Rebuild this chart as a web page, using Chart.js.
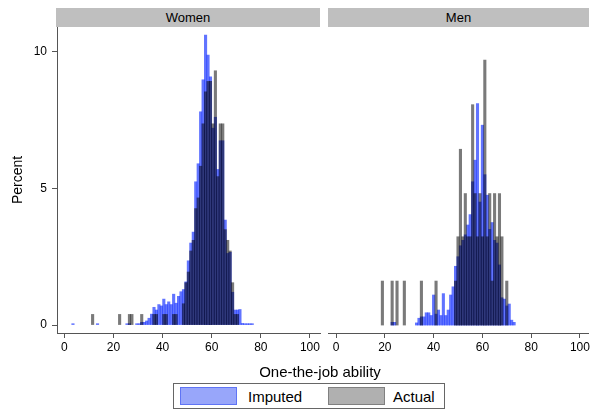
<!DOCTYPE html>
<html>
<head>
<meta charset="utf-8">
<script src="https://cdn.jsdelivr.net/npm/chart.js@4.4.1/dist/chart.umd.min.js"></script>
<style>
  html, body { margin: 0; padding: 0; background: #fff; }
  body { width: 590px; height: 412px; position: relative; overflow: hidden;
         font-family: "Liberation Sans", Arial, Helvetica, sans-serif; color: #000; }
  .strip { position: absolute; top: 8px; height: 19px; background: #bfbfbf;
           font-size: 13px; line-height: 19px; text-align: center; }
  canvas { position: absolute; top: 27px; }
  #xtitle { position: absolute; left: 0; width: 640px; top: 363px; text-align: center; font-size: 15px; }
  #legend { position: absolute; left: 173px; top: 383px; width: 272px; height: 26px;
            border: 1px solid #666; box-sizing: border-box; font-size: 15px; }
  .key { position: absolute; top: 3px; width: 57px; height: 18px; box-sizing: border-box; }
  .lab { position: absolute; top: 3px; line-height: 19px; }
</style>
</head>
<body>
<div class="strip" style="left:56px;width:264px;">Women</div>
<div class="strip" style="left:328px;width:261px;">Men</div>
<canvas id="women" width="322" height="340" style="left:0px;"></canvas>
<canvas id="men" width="268" height="340" style="left:322px;"></canvas>
<div id="xtitle">One-the-job ability</div>
<div id="legend">
  <div class="key" style="left:6px;background:#98a6fa;border:1px solid #5f74f5;"></div>
  <div class="lab" style="left:74px;">Imputed</div>
  <div class="key" style="left:154px;background:#b0b0b0;border:1px solid #808080;"></div>
  <div class="lab" style="left:219px;">Actual</div>
</div>
<script>
// Histogram bins: width 1 on the ability scale, indexed 0..79
const bins = [
   0,  1,  2,  3,  4,  5,  6,  7,  8,  9,
  10, 11, 12, 13, 14, 15, 16, 17, 18, 19,
  20, 21, 22, 23, 24, 25, 26, 27, 28, 29,
  30, 31, 32, 33, 34, 35, 36, 37, 38, 39,
  40, 41, 42, 43, 44, 45, 46, 47, 48, 49,
  50, 51, 52, 53, 54, 55, 56, 57, 58, 59,
  60, 61, 62, 63, 64, 65, 66, 67, 68, 69,
  70, 71, 72, 73, 74, 75, 76, 77, 78, 79
];
const binWidth = 1;
const womenStart = 0;     // bin i covers [start + i, start + i + 1)
const menStart = -0.5;

// Percent of observations per bin
const womenImputed = [
  0, 0, 0, 0.05, 0, 0, 0, 0, 0, 0,
  0, 0, 0, 0.05, 0, 0, 0, 0, 0, 0,
  0, 0, 0, 0, 0, 0.05, 0.05, 0, 0, 0.05,
  0.05, 0.1, 0.1, 0.15, 0.25, 0.4, 0.65, 0.55, 0.75, 0.7,
  0.95, 0.75, 0.85, 0.75, 1.13, 0.8, 1.05, 1.22, 1.3, 1.58,
  2.35, 3.0, 3.4, 5.24, 5.9, 7.8, 8.97, 10.6, 9.87, 9.08,
  7.2, 7.6, 5.69, 6.74, 6.74, 3.84, 2.62, 2.66, 1.2, 0.55,
  0.55, 0.57, 0.06, 0.05, 0.05, 0.05, 0.05, 0, 0, 0
];
const womenActual = [
  0, 0, 0, 0, 0, 0, 0, 0, 0, 0,
  0, 0.39, 0, 0, 0, 0, 0, 0, 0, 0,
  0, 0, 0.39, 0, 0, 0, 0.39, 0.39, 0, 0,
  0, 0.39, 0, 0, 0, 0, 0.39, 0.39, 0, 0,
  0.39, 0.39, 0, 0, 0.39, 0.39, 0, 0, 0.78, 1.55,
  1.94, 2.71, 3.1, 4.26, 4.65, 5.81, 7.36, 8.53, 8.91, 8.91,
  7.36, 9.3, 5.43, 7.36, 7.36, 3.49, 3.1, 2.71, 1.55, 0.39,
  0.39, 0, 0, 0, 0, 0, 0, 0, 0, 0
];
const menImputed = [
  0, 0, 0, 0, 0, 0, 0, 0, 0, 0,
  0, 0, 0, 0, 0, 0, 0, 0, 0, 0,
  0, 0, 0, 0.1, 0.1, 0, 0, 0, 0, 0,
  0, 0, 0, 0.08, 0.25, 0.3, 0.3, 0.45, 0.45, 0.35,
  1.1, 0.4, 0.55, 0.35, 1.15, 0.35, 0.55, 1.1, 1.4, 2.15,
  2.5, 2.9, 3.1, 3.3, 3.66, 4.04, 5.24, 6.03, 8.1, 4.5,
  7.31, 5.5, 4.75, 3.5, 3.75, 3.1, 3.0, 2.2, 1.0, 0.95,
  0.7, 0.77, 0.18, 0.1, 0, 0, 0, 0, 0, 0
];
const menActual = [
  0, 0, 0, 0, 0, 0, 0, 0, 0, 0,
  0, 0, 0, 0, 0, 0, 0, 0, 0, 1.61,
  0, 0, 0, 1.61, 0, 1.61, 0, 0, 1.61, 0,
  0, 0, 0, 0, 0, 1.61, 0, 0, 0, 0,
  0, 1.61, 0, 0, 0, 0, 0, 0, 0, 1.61,
  3.23, 6.43, 3.23, 4.81, 3.23, 3.23, 8.06, 4.81, 3.23, 4.81,
  3.23, 9.69, 3.23, 4.81, 1.61, 4.81, 3.23, 4.81, 3.23, 0,
  1.61, 0, 0, 0, 0, 0, 0, 0, 0, 0
];

const xTicks = [0, 20, 40, 60, 80, 100];
const yTicks = [0, 5, 10];
const seriesNames = ['Imputed', 'Actual'];

const FONT = '"Liberation Sans", Arial, Helvetica, sans-serif';
const AXIS = '#555';
const IMPUTED_FILL = 'rgba(0, 30, 255, 0.62)';
const ACTUAL_FILL = 'rgba(0, 0, 0, 0.52)';

// one bar per non-empty bin, centred in the bin
function points(values, start) {
  return bins
    .map((b, i) => ({ x: start + binWidth * (b + 0.5), y: values[i] }))
    .filter(p => p.y > 0);
}

function fixedTicks(list) {
  return scale => { scale.ticks = list.map(v => ({ value: v })); };
}

// keep the plot area exactly where the layout puts it (no label overhang padding)
function fitTo(size) {
  return s => {
    if (s.isHorizontal()) s.height = size; else s.width = size;
    s.paddingTop = 0; s.paddingBottom = 0; s.paddingLeft = 0; s.paddingRight = 0;
  };
}

function panel(id, imputed, actual, start, showY, xRange) {
  return new Chart(document.getElementById(id), {
    type: 'bar',
    data: {
      datasets: [
        { label: seriesNames[0], data: points(imputed, start), backgroundColor: IMPUTED_FILL, order: 2 },
        { label: seriesNames[1], data: points(actual, start), backgroundColor: ACTUAL_FILL, order: 1 }
      ]
    },
    options: {
      responsive: false,
      animation: false,
      events: [],
      layout: { padding: { left: showY ? 0 : 6, right: 2, top: 0, bottom: 0 } },
      datasets: { bar: { grouped: false, barPercentage: 1, categoryPercentage: 1, borderWidth: 0 } },
      plugins: { legend: { display: false }, tooltip: { enabled: false } },
      scales: {
        x: {
          type: 'linear', min: xRange[0], max: xRange[1], offset: false,
          afterBuildTicks: fixedTicks(xTicks),
          afterFit: fitTo(34),
          grid: { display: true, offset: false, drawOnChartArea: false, drawTicks: true, tickLength: 5, color: AXIS },
          border: { display: true, color: AXIS, width: 1 },
          ticks: { color: '#000', font: { family: FONT, size: 12 }, padding: 2, maxRotation: 0, autoSkip: false }
        },
        y: {
          type: 'linear', min: -0.29, max: 10.9, display: showY,
          afterBuildTicks: fixedTicks(yTicks),
          afterFit: fitTo(showY ? 57 : 0),
          grid: { display: true, drawOnChartArea: false, drawTicks: true, tickLength: 5, color: AXIS },
          border: { display: true, color: AXIS, width: 1 },
          ticks: { color: '#000', font: { family: FONT, size: 12 }, padding: 5 },
          title: { display: true, text: 'Percent', color: '#000', font: { family: FONT, size: 14 }, padding: { top: 10, bottom: 0 } }
        }
      }
    }
  });
}

panel('women', womenImputed, womenActual, womenStart, true, [-3, 104.1]);
panel('men', menImputed, menActual, menStart, false, [-3.3, 103.3]);
</script>
</body>
</html>
